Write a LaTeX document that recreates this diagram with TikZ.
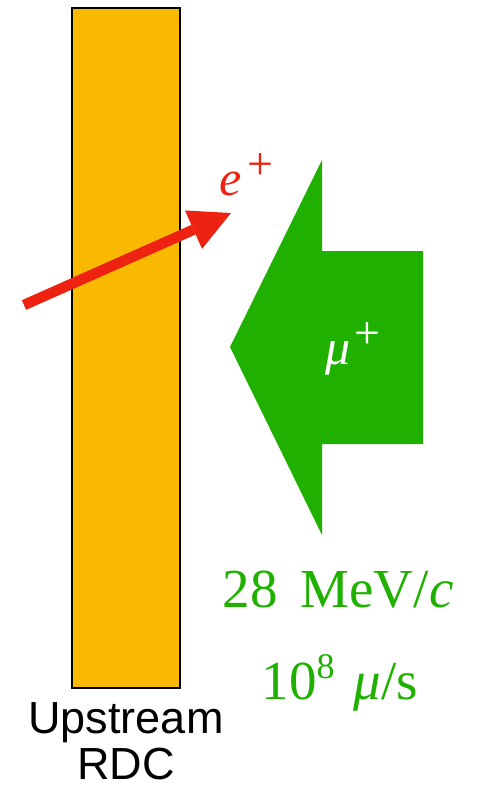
\documentclass[tikz,border=0pt]{standalone}
\usepackage{fontspec}
\setmainfont{Liberation Serif}
\setsansfont{Liberation Sans}
\usetikzlibrary{arrows.meta}
\definecolor{rdcorange}{RGB}{249,185,0}
\definecolor{positronred}{RGB}{238,34,17}
\definecolor{muongreen}{RGB}{31,176,0}

\newcommand{\upsc}[3]{\raisebox{#1}{\upshape\fontsize{#2}{40}\selectfont #3}}

\tikzset{
  bigtext/.style={inner sep=0pt, anchor=base, font=\fontsize{55}{60}\selectfont},
  particle/.style={inner sep=0pt, anchor=base west, font=\fontsize{50}{55}\selectfont\itshape},
  rdclabel/.style={inner sep=0pt, anchor=base, font=\sffamily\fontsize{45}{52}\selectfont}
}

\begin{document}
\begin{tikzpicture}[x=1pt,y=-1pt]
  \useasboundingbox (0,0) rectangle (479,788);

  % Upstream RDC plate
  \node[draw, line width=1.5pt, fill=rdcorange, minimum width=108pt, minimum height=680pt] (rdc) at (126,348) {};

  % Muon beam
  \fill[muongreen] (230,347) -- (322,160) -- (322,251) -- (423,251) -- (423,444) -- (322,444) -- (322,535) -- cycle;
  \node[particle, text=white] (muplus) at (325,364) {μ\hspace{4pt}\upsc{16pt}{46}{+}};

  % Positron track
  \coordinate (etail) at (24,305);
  \coordinate (ehead) at (231,213);
  \draw[positronred, line width=10.5pt, -{Triangle[length=41pt, width=42pt, line width=0pt]}] (etail) -- (ehead);
  \node[particle, text=positronred] (eplus) at (219,195) {e\hspace{6pt}\upsc{16pt}{46}{+}};

  % Beam properties
  \node[bigtext, text=muongreen] (momentum) at (338,607) {28\hspace{0.42em}MeV/\textit{c}};
  \node[bigtext, text=muongreen] (rate) at (340,699) {10\upsc{21pt}{36}{8}\hspace{0.35em}\textit{μ}/s};

  % Labels
  \node[rdclabel] (lblup) at (126,733) {Upstream};
  \node[rdclabel] (lblrdc) at (126,779) {RDC};
\end{tikzpicture}
\end{document}
